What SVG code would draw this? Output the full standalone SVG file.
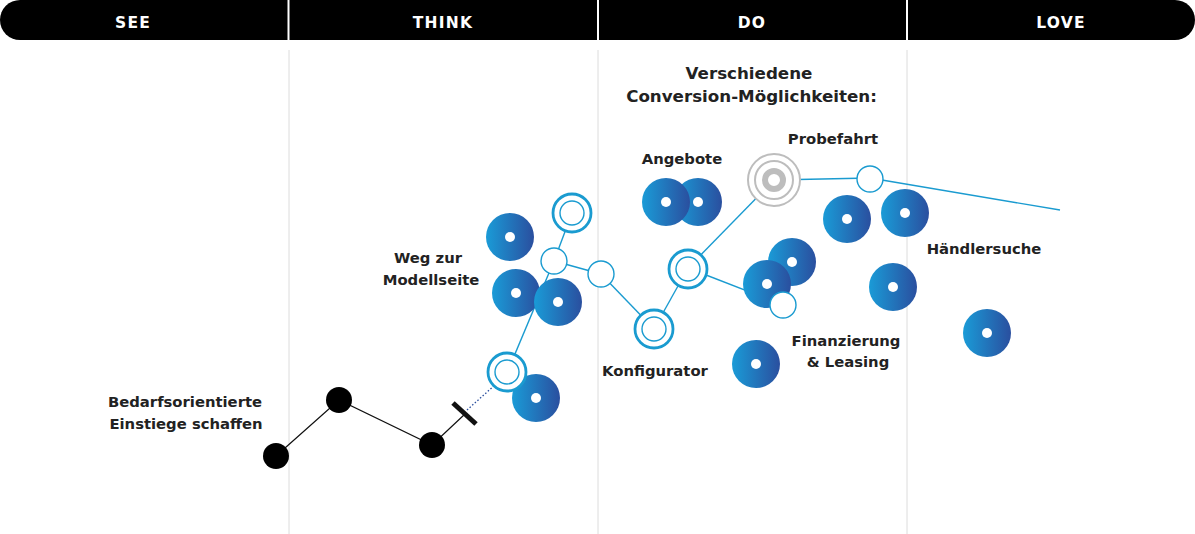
<svg xmlns="http://www.w3.org/2000/svg" width="1195" height="534" viewBox="0 0 1195 534">
<defs>
<linearGradient id="bg" x1="0" y1="0" x2="1" y2="0">
<stop offset="0" stop-color="#1a9bd7"/>
<stop offset="1" stop-color="#2a4f9f"/>
</linearGradient>
<style>
.hdr{font-family:"DejaVu Sans","Liberation Sans",sans-serif;font-weight:700;font-size:15.5px;fill:#fff;text-anchor:middle;letter-spacing:1.2px}
.lbl{font-family:"DejaVu Sans","Liberation Sans",sans-serif;font-weight:700;font-size:14.8px;fill:#222;text-anchor:middle}
.ttl{font-family:"DejaVu Sans","Liberation Sans",sans-serif;font-weight:700;font-size:16.7px;fill:#222;text-anchor:middle}
.col{stroke:#dcdcdc;stroke-width:1}
.sep{stroke:#fff;stroke-width:2}
.don{fill:url(#bg)}
.dot{fill:#fff}
.open{fill:#fff;stroke:#1a9bd0;stroke-width:1.4}
.ring{fill:#fff;stroke:#1a9bd0;stroke-width:2.8}
.ringin{fill:none;stroke:#1a9bd0;stroke-width:1.4}
.bl{stroke:#1a9bd0;stroke-width:1.4;fill:none}
.kl{stroke:#111;stroke-width:1.2;fill:none}
.blk{fill:#000}
</style>
</defs>
<rect width="1195" height="534" fill="#fff"/>
<g id="header">
<rect x="0" y="0" width="1195" height="40" rx="20" ry="20" fill="#000"/>
<line class="sep" x1="288.5" y1="0" x2="288.5" y2="40"/>
<line class="sep" x1="598" y1="0" x2="598" y2="40"/>
<line class="sep" x1="907" y1="0" x2="907" y2="40"/>
<text class="hdr" x="133" y="28">SEE</text>
<text class="hdr" x="443" y="28">THINK</text>
<text class="hdr" x="752" y="28">DO</text>
<text class="hdr" x="1061" y="28">LOVE</text>
</g>
<g id="columns">
<line class="col" x1="289" y1="50" x2="289" y2="534"/>
<line class="col" x1="598" y1="50" x2="598" y2="534"/>
<line class="col" x1="907" y1="50" x2="907" y2="534"/>
</g>
<g id="connectors">
<polyline class="kl" points="276,456 339,400 432,445 465,414"/>
<line x1="453" y1="403" x2="476" y2="424" stroke="#111" stroke-width="5"/>
<line x1="467" y1="410" x2="496" y2="384" stroke="#2a4f9f" stroke-width="1.3" stroke-dasharray="1.5,2"/>
<line class="bl" x1="572" y1="213" x2="554" y2="261"/>
<line class="bl" x1="554" y1="261" x2="601" y2="274"/>
<line class="bl" x1="554" y1="261" x2="507" y2="373"/>
<line class="bl" x1="601" y1="274" x2="654" y2="329"/>
<line class="bl" x1="654" y1="329" x2="688" y2="268"/>
<line class="bl" x1="688" y1="268" x2="774" y2="180"/>
<line class="bl" x1="688" y1="268" x2="783" y2="305"/>
<line class="bl" x1="774" y1="180" x2="870" y2="178"/>
<line class="bl" x1="870" y1="178" x2="1060" y2="210"/>
</g>
<g id="see-nodes">
<circle id="b1" class="blk" cx="276" cy="456" r="13"/>
<circle id="b2" class="blk" cx="339" cy="400" r="13"/>
<circle id="b3" class="blk" cx="432" cy="445" r="13"/>
</g>
<g id="d-think-1"><circle class="don" cx="510" cy="237" r="24"/><circle class="dot" cx="510" cy="237" r="5"/></g>
<g id="d-think-2"><circle class="don" cx="516" cy="293" r="24"/><circle class="dot" cx="516" cy="293" r="5"/></g>
<g id="d-think-3"><circle class="don" cx="558" cy="302" r="24"/><circle class="dot" cx="558" cy="302" r="5"/></g>
<g id="d-think-4"><circle class="don" cx="536" cy="398" r="24"/><circle class="dot" cx="536" cy="398" r="5"/></g>
<g id="r-think-top"><circle class="ring" cx="572" cy="213" r="19"/><circle class="ringin" cx="572" cy="213" r="12"/></g>
<g id="o-think"><circle class="open" cx="554" cy="261" r="13"/></g>
<g id="o-mid"><circle class="open" cx="601" cy="274" r="13"/></g>
<g id="r-think-bottom"><circle class="ring" cx="507" cy="372" r="19"/><circle class="ringin" cx="507" cy="372" r="12"/></g>
<g id="r-konfigurator"><circle class="ring" cx="654" cy="329" r="19"/><circle class="ringin" cx="654" cy="329" r="12"/></g>
<g id="r-do"><circle class="ring" cx="688" cy="269" r="19"/><circle class="ringin" cx="688" cy="269" r="12"/></g>
<g id="d-angebote-2"><circle class="don" cx="698" cy="202" r="24"/><circle class="dot" cx="698" cy="202" r="5"/></g>
<g id="d-angebote-1"><circle class="don" cx="666" cy="202" r="24"/><circle class="dot" cx="666" cy="202" r="5"/></g>
<g id="probefahrt">
<circle cx="774" cy="180" r="26" fill="#fff" stroke="#bdbdbd" stroke-width="2"/>
<circle cx="774" cy="180" r="19" fill="none" stroke="#bdbdbd" stroke-width="2"/>
<circle cx="774" cy="180" r="9" fill="none" stroke="#bdbdbd" stroke-width="6"/>
</g>
<g id="o-probe"><circle class="open" cx="870" cy="179" r="13"/></g>
<g id="d-fin-2"><circle class="don" cx="792" cy="262" r="24"/><circle class="dot" cx="792" cy="262" r="5"/></g>
<g id="d-fin-1"><circle class="don" cx="767" cy="284" r="24"/><circle class="dot" cx="767" cy="284" r="5"/></g>
<g id="o-fin"><circle class="open" cx="783" cy="305" r="13"/></g>
<g id="d-fin-3"><circle class="don" cx="756" cy="364" r="24"/><circle class="dot" cx="756" cy="364" r="5"/></g>
<g id="d-do-1"><circle class="don" cx="847" cy="219" r="24"/><circle class="dot" cx="847" cy="219" r="5"/></g>
<g id="d-do-2"><circle class="don" cx="905" cy="213" r="24"/><circle class="dot" cx="905" cy="213" r="5"/></g>
<g id="d-do-3"><circle class="don" cx="893" cy="287" r="24"/><circle class="dot" cx="893" cy="287" r="5"/></g>
<g id="d-love"><circle class="don" cx="987" cy="333" r="24"/><circle class="dot" cx="987" cy="333" r="5"/></g>
<g id="labels">
<text class="ttl" x="749" y="79">Verschiedene</text>
<text class="ttl" x="751.5" y="102">Conversion-Möglichkeiten:</text>
<text class="lbl" x="833" y="144">Probefahrt</text>
<text class="lbl" x="682" y="164">Angebote</text>
<text class="lbl" x="428" y="263">Weg zur</text>
<text class="lbl" x="431" y="285">Modellseite</text>
<text class="lbl" x="984" y="254">Händlersuche</text>
<text class="lbl" x="846" y="346">Finanzierung</text>
<text class="lbl" x="848" y="367">&amp; Leasing</text>
<text class="lbl" x="655" y="376">Konfigurator</text>
<text class="lbl" x="185" y="407">Bedarfsorientierte</text>
<text class="lbl" x="186" y="429">Einstiege schaffen</text>
</g>
</svg>
